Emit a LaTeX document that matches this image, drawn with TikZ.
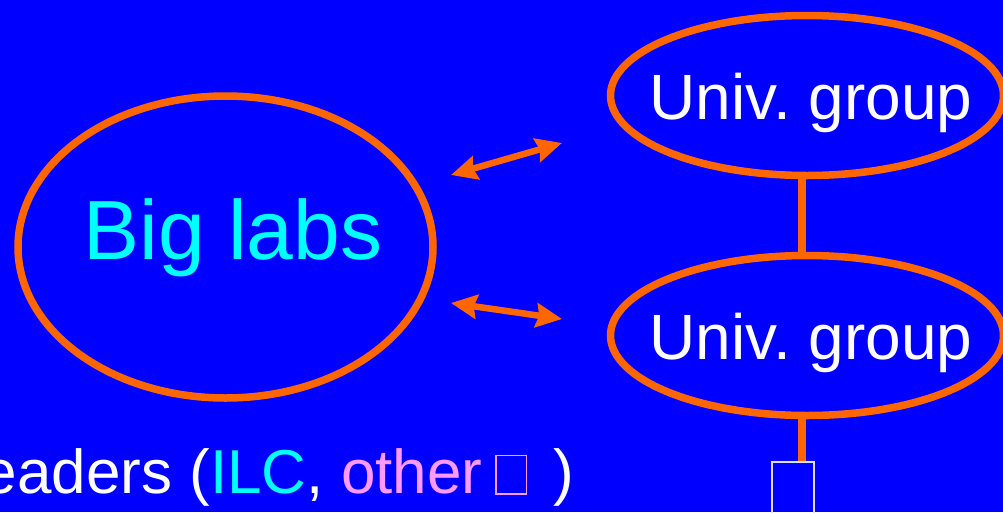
\documentclass[tikz,border=0pt]{standalone}
\usepackage{fontspec}
\setmainfont{Liberation Sans}
\usetikzlibrary{shapes.geometric,arrows.meta}
\definecolor{bgblue}{HTML}{0000FF}
\definecolor{orng}{HTML}{FF6600}
\definecolor{cyn}{HTML}{00FFFF}
\definecolor{pnk}{HTML}{FF99FF}
\definecolor{boxline}{HTML}{DDDDFF}
\tikzset{
  oval/.style={draw=orng, line width=7.5pt, ellipse, inner sep=0pt},
  link/.style={draw=orng, line width=7.5pt},
  dblarrow/.style={draw=orng, line width=6.5pt, {Stealth[length=26pt,width=24pt,inset=3pt]}-{Stealth[length=26pt,width=24pt,inset=3pt]}},
  lbl/.style={anchor=base, inner sep=0pt},
}
\begin{document}
\frenchspacing
\begin{tikzpicture}[x=1pt,y=-1pt]
\useasboundingbox (0,0) rectangle (1003,512);
\clip (0,0) rectangle (1003,512);
\fill[bgblue] (0,0) rectangle (1003,512);
% ellipses
\node[oval, minimum width=415pt, minimum height=302pt] (big) at (225.5,247) {};
\node[oval, minimum width=393pt, minimum height=160pt] (u1) at (807,95.5) {};
\node[oval, minimum width=393pt, minimum height=160pt] (u2) at (807,335.5) {};
% texts
\node[lbl, text=cyn, font=\fontsize{84pt}{90pt}\selectfont] (tbig) at (233,259) {Big labs};
\node[lbl, text=white, font=\fontsize{64pt}{70pt}\selectfont] (tu1) at (811,119) {Univ.\ group};
\node[lbl, text=white, font=\fontsize{64pt}{70pt}\selectfont] (tu2) at (811,359) {Univ.\ group};
% bottom box
\node[draw=boxline, line width=1.5pt, minimum width=42pt, minimum height=80pt, inner sep=0pt] (bx) at (793,502) {};
% connectors
\coordinate (cx) at (802,0);
\draw[link] (u1.south -| cx) -- (u2.north -| cx);
\draw[link] (u2.south -| cx) -- (cx |- bx.north);
% arrows
\coordinate (a1) at (451,175);
\coordinate (a2) at (562,143);
\coordinate (b1) at (451,303);
\coordinate (b2) at (562,319);
\draw[dblarrow] (a1) -- (a2);
\draw[dblarrow] (b1) -- (b2);
% bottom text
\node[anchor=base west, inner sep=0pt, text=white, font=\fontsize{62pt}{70pt}\selectfont] (lead) at (-52,493)
 {Leaders (\textcolor{cyn}{ILC}, \textcolor{pnk}{other}\hspace{13pt}{\color{pnk}\setlength{\fboxrule}{1.5pt}\setlength{\fboxsep}{0pt}\fbox{\rule{0pt}{37pt}\hspace{29pt}}}\hspace{26pt})};
\end{tikzpicture}
\end{document}
